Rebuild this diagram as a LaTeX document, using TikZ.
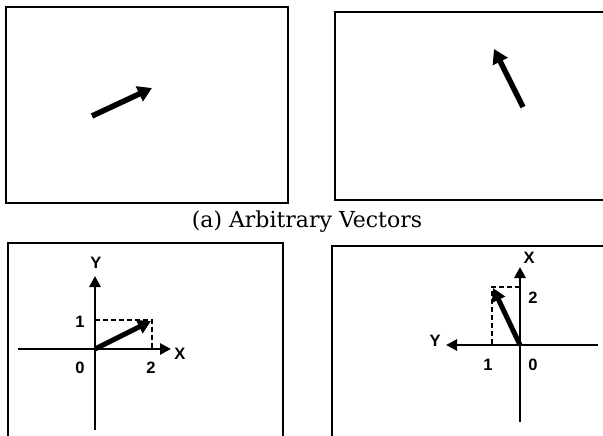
\documentclass[tikz,border=0pt]{standalone}
\usepackage{fontspec}
\newfontfamily\lblfont{Liberation Sans}
\newfontfamily\capfont{DejaVu Serif}
\usetikzlibrary{arrows.meta}
\begin{document}
\begin{tikzpicture}[x=1pt,y=-1pt,
  frame/.style={line width=1.4pt},
  axis/.style={line width=2.8pt,-{Triangle[length=11pt,width=11pt]}},
  vec/.style={line width=5.5pt,-{Triangle[length=14pt,width=16pt]}},
  guide/.style={line width=1.7pt,dash pattern=on 5pt off 3pt},
  lbl/.style={font=\lblfont\bfseries\fontsize{16.5}{16.5}\selectfont, inner sep=0pt},
  captext/.style={font=\capfont\fontsize{22}{22}\selectfont, inner sep=0pt}]
\useasboundingbox (0,0) rectangle (603,436);
% frames
\draw[frame] (6,7) rectangle (288,203);
\draw[frame] (603,12) -- (335,12) -- (335,200) -- (603,200);
\draw[frame] (8,436) -- (8,243) -- (283,243) -- (283,436);
\draw[frame] (332,436) -- (332,246) -- (603,246);
\node[captext] (caption) at (307,222) {(a) Arbitrary Vectors};
% arbitrary vectors
\coordinate (a1s) at (92,116); \coordinate (a1t) at (152,88);
\draw[vec] (a1s) -- (a1t);
\coordinate (a2s) at (523,107); \coordinate (a2t) at (494,49);
\draw[vec] (a2s) -- (a2t);
% bottom-left coordinate system
\coordinate (o1) at (95,349);
\coordinate (x1s) at (18,349); \coordinate (x1t) at (171,349);
\coordinate (y1s) at (95,430); \coordinate (y1t) at (95,276);
\coordinate (v1) at (151,321);
\coordinate (c1) at (152,320);
\draw[axis] (x1s) -- (x1t);
\draw[axis] (y1s) -- (y1t);
\draw[guide] (o1 |- c1) -- (c1) -- (c1 |- o1);
\draw[vec,line width=5pt,-{Triangle[length=13pt,width=14pt]}] (o1) -- (v1);
\node[lbl] (lY1) at (96,263) {Y};
\node[lbl] (lX1) at (180,354) {X};
\node[lbl] (l11) at (80,322) {1};
\node[lbl] (l01) at (80,368) {0};
\node[lbl] (l21) at (151,368) {2};
% bottom-right coordinate system
\coordinate (o2) at (520,345);
\coordinate (x2s) at (520,422); \coordinate (x2t) at (520,267);
\coordinate (y2s) at (598,345); \coordinate (y2t) at (446,345);
\coordinate (v2) at (493,288);
\coordinate (c2) at (492,287);
\draw[axis] (x2s) -- (x2t);
\draw[axis] (y2s) -- (y2t);
\draw[guide] (o2 |- c2) -- (c2) -- (c2 |- o2);
\draw[vec,line width=5pt,-{Triangle[length=13pt,width=14pt]}] (o2) -- (v2);
\node[lbl] (lX2) at (529,258) {X};
\node[lbl] (l22) at (533,298) {2};
\node[lbl] (lY2) at (435,341) {Y};
\node[lbl] (l12) at (488,365) {1};
\node[lbl] (l02) at (533,365) {0};
\end{tikzpicture}
\end{document}
